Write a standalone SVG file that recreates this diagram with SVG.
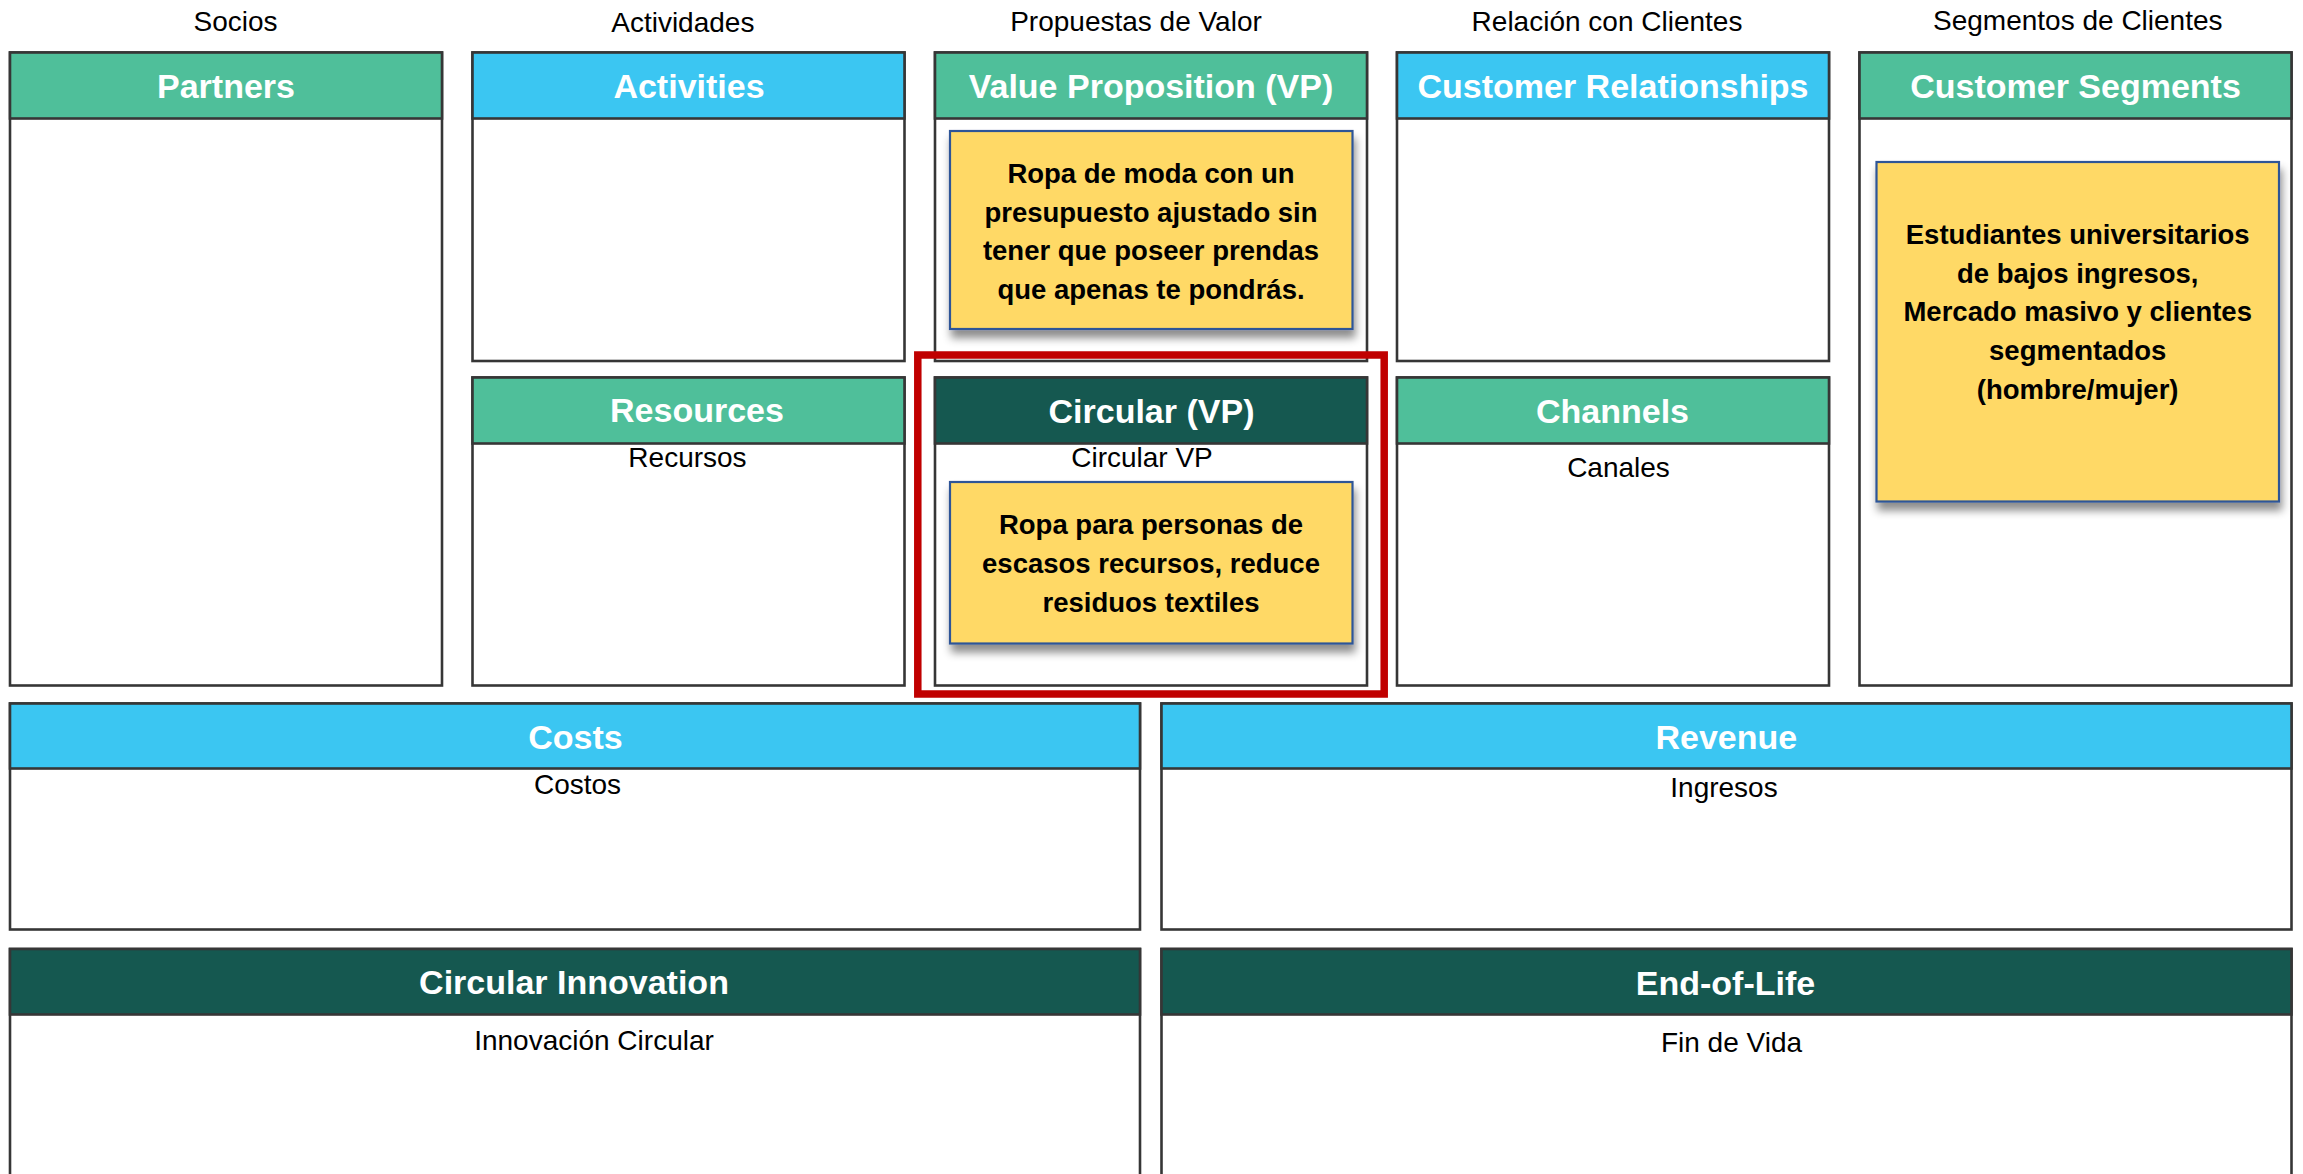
<svg xmlns="http://www.w3.org/2000/svg" width="2303" height="1174" viewBox="0 0 2303 1174">
<defs>
<style>
.box{fill:#ffffff;stroke:#363636;stroke-width:2.6}
.hg{fill:#4FBF9A;stroke:#363636;stroke-width:2.6}
.hb{fill:#3BC6F2;stroke:#363636;stroke-width:2.6}
.hd{fill:#155850;stroke:#363636;stroke-width:2.6}
.note{fill:#FFD966;stroke:#2F5597;stroke-width:2.2;filter:url(#sh)}
.ht{font-family:"Liberation Sans",Arial,sans-serif;font-weight:bold;font-size:34px;fill:#ffffff;text-anchor:middle}
.lb{font-family:"Liberation Sans",Arial,sans-serif;font-size:28px;fill:#000000;text-anchor:middle}
.nt{font-family:"Liberation Sans",Arial,sans-serif;font-weight:bold;font-size:27.5px;fill:#000000;text-anchor:middle}
.focus{fill:none;stroke:#C00000;stroke-width:7.5}
</style>
<filter id="sh" x="-10%" y="-10%" width="125%" height="130%">
<feDropShadow dx="2" dy="8" stdDeviation="4" flood-color="#000000" flood-opacity="0.45"/>
</filter>
</defs>
<rect x="0" y="0" width="2303" height="1174" fill="#ffffff"/>

<g id="column-labels">
<text class="lb" x="235.6" y="31">Socios</text>
<text class="lb" x="682.8" y="32">Actividades</text>
<text class="lb" x="1136" y="31">Propuestas de Valor</text>
<text class="lb" x="1607" y="31">Relación con Clientes</text>
<text class="lb" x="2077.8" y="30">Segmentos de Clientes</text>
</g>

<g id="partners">
<rect class="box" x="10" y="52.5" width="432" height="633"/>
<rect class="hg" x="10" y="52.5" width="432" height="66"/>
<text class="ht" x="226" y="98">Partners</text>
</g>

<g id="activities">
<rect class="box" x="472.5" y="52.5" width="432" height="308.5"/>
<rect class="hb" x="472.5" y="52.5" width="432" height="66"/>
<text class="ht" x="689" y="98">Activities</text>
</g>

<g id="resources">
<rect class="box" x="472.5" y="377.5" width="432" height="308"/>
<rect class="hg" x="472.5" y="377.5" width="432" height="66"/>
<text class="ht" x="697" y="422">Resources</text>
<text class="lb" x="687.5" y="466.5">Recursos</text>
</g>

<g id="value-proposition">
<rect class="box" x="935" y="52.5" width="432" height="308.5"/>
<rect class="hg" x="935" y="52.5" width="432" height="66"/>
<text class="ht" x="1151" y="98">Value Proposition (VP)</text>
<rect class="note" x="950" y="131" width="402.5" height="198"/>
<text class="nt" x="1151" y="183">Ropa de moda con un</text>
<text class="nt" x="1151" y="221.5">presupuesto ajustado sin</text>
<text class="nt" x="1151" y="260">tener que poseer prendas</text>
<text class="nt" x="1151" y="298.5">que apenas te pondrás.</text>
</g>

<g id="circular-vp">
<rect class="box" x="935" y="377.5" width="432" height="308"/>
<rect class="hd" x="935" y="377.5" width="432" height="66"/>
<text class="ht" x="1151.5" y="422.5">Circular (VP)</text>
<text class="lb" x="1142" y="466.5">Circular VP</text>
<rect class="note" x="950" y="482" width="402.5" height="161.5"/>
<text class="nt" x="1151" y="534">Ropa para personas de</text>
<text class="nt" x="1151" y="573">escasos recursos, reduce</text>
<text class="nt" x="1151" y="611.5">residuos textiles</text>
</g>

<g id="customer-relationships">
<rect class="box" x="1397" y="52.5" width="432" height="308.5"/>
<rect class="hb" x="1397" y="52.5" width="432" height="66"/>
<text class="ht" x="1613" y="98">Customer Relationships</text>
</g>

<g id="channels">
<rect class="box" x="1397" y="377.5" width="432" height="308"/>
<rect class="hg" x="1397" y="377.5" width="432" height="66"/>
<text class="ht" x="1612.5" y="422.5">Channels</text>
<text class="lb" x="1618.5" y="476.5">Canales</text>
</g>

<g id="customer-segments">
<rect class="box" x="1859.5" y="52.5" width="432" height="633"/>
<rect class="hg" x="1859.5" y="52.5" width="432" height="66"/>
<text class="ht" x="2075.5" y="98">Customer Segments</text>
<rect class="note" x="1876.5" y="162" width="402.5" height="339.5"/>
<text class="nt" x="2077.7" y="244">Estudiantes universitarios</text>
<text class="nt" x="2077.7" y="282.5">de bajos ingresos,</text>
<text class="nt" x="2077.7" y="321">Mercado masivo y clientes</text>
<text class="nt" x="2077.7" y="359.5">segmentados</text>
<text class="nt" x="2077.7" y="398.5">(hombre/mujer)</text>
</g>

<g id="costs">
<rect class="box" x="10" y="703.5" width="1130" height="226"/>
<rect class="hb" x="10" y="703.5" width="1130" height="65"/>
<text class="ht" x="575.5" y="748.5">Costs</text>
<text class="lb" x="577.5" y="794">Costos</text>
</g>

<g id="revenue">
<rect class="box" x="1161.5" y="703.5" width="1130" height="226"/>
<rect class="hb" x="1161.5" y="703.5" width="1130" height="65"/>
<text class="ht" x="1726.3" y="749">Revenue</text>
<text class="lb" x="1724" y="796.5">Ingresos</text>
</g>

<g id="circular-innovation">
<rect class="box" x="10" y="949" width="1130" height="260"/>
<rect class="hd" x="10" y="949" width="1130" height="65.5"/>
<text class="ht" x="574" y="993.5">Circular Innovation</text>
<text class="lb" x="594" y="1050">Innovación Circular</text>
</g>

<g id="end-of-life">
<rect class="box" x="1161.5" y="949" width="1130" height="260"/>
<rect class="hd" x="1161.5" y="949" width="1130" height="65.5"/>
<text class="ht" x="1725.5" y="995">End-of-Life</text>
<text class="lb" x="1731.5" y="1051.5">Fin de Vida</text>
</g>

<g id="highlight">
<rect class="focus" x="917.8" y="355" width="466.4" height="339"/>
</g>

<g id="connectors"></g>
</svg>
